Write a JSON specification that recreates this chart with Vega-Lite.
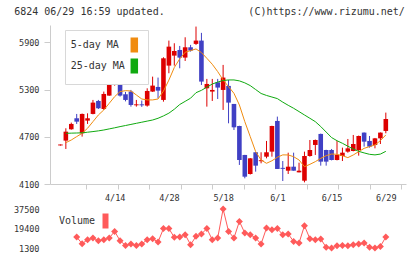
{
  "$schema": "https://vega.github.io/schema/vega-lite/v6.json",
  "autosize": "none",
  "width": 356,
  "height": 223,
  "padding": {"left": 50, "top": 25, "right": 14, "bottom": 11},
  "background": "white",
  "config": {
    "view": {"stroke": null},
    "axis": {"labelFont": "DejaVu Sans Mono", "labelFontSize": 8.5, "labelColor": "#333", "domainColor": "#ccc", "tickColor": "#ccc", "grid": false}
  },
  "data": {"values": [
    {"d":0,"o":4590,"h":4602,"l":4588,"c":4602,"m5":null,"m25":null,"v":null},
    {"d":1,"o":4651,"h":4808,"l":4545,"c":4765,"m5":4625,"m25":4744,"v":null},
    {"d":2,"o":4795,"h":4880,"l":4790,"c":4863,"m5":4659,"m25":4746,"v":null},
    {"d":3,"o":4935,"h":4990,"l":4863,"c":4892,"m5":4702,"m25":4748,"v":11500},
    {"d":4,"o":4744,"h":4995,"l":4702,"c":4990,"m5":4744,"m25":4750,"v":5300},
    {"d":5,"o":4905,"h":4998,"l":4863,"c":4935,"m5":4808,"m25":4758,"v":9000},
    {"d":6,"o":4990,"h":5168,"l":4985,"c":5134,"m5":4892,"m25":4766,"v":10600},
    {"d":7,"o":5155,"h":5168,"l":5053,"c":5062,"m5":4977,"m25":4775,"v":8100},
    {"d":8,"o":5053,"h":5274,"l":5040,"c":5244,"m5":5041,"m25":4786,"v":9000},
    {"d":9,"o":5223,"h":5464,"l":5220,"c":5371,"m5":5125,"m25":4800,"v":10600},
    {"d":10,"o":5358,"h":5613,"l":5350,"c":5477,"m5":5210,"m25":4814,"v":16700},
    {"d":11,"o":5528,"h":5530,"l":5210,"c":5223,"m5":5274,"m25":4829,"v":8100},
    {"d":12,"o":5240,"h":5270,"l":5150,"c":5168,"m5":5286,"m25":4843,"v":3700},
    {"d":13,"o":5274,"h":5295,"l":5083,"c":5104,"m5":5282,"m25":4857,"v":5000},
    {"d":14,"o":5100,"h":5168,"l":5083,"c":5112,"m5":5231,"m25":4871,"v":3700},
    {"d":15,"o":5112,"h":5160,"l":5080,"c":5100,"m5":5180,"m25":4885,"v":5000},
    {"d":16,"o":5096,"h":5316,"l":5083,"c":5282,"m5":5168,"m25":4899,"v":9000},
    {"d":17,"o":5274,"h":5464,"l":5270,"c":5350,"m5":5168,"m25":4913,"v":9900},
    {"d":18,"o":5333,"h":5452,"l":5189,"c":5286,"m5":5180,"m25":4935,"v":6900},
    {"d":19,"o":5168,"h":5710,"l":5146,"c":5697,"m5":5280,"m25":4965,"v":19300},
    {"d":20,"o":5604,"h":5922,"l":5507,"c":5845,"m5":5420,"m25":5000,"v":19300},
    {"d":21,"o":5731,"h":5888,"l":5604,"c":5790,"m5":5580,"m25":5050,"v":11200},
    {"d":22,"o":5803,"h":5854,"l":5570,"c":5706,"m5":5690,"m25":5110,"v":11500},
    {"d":23,"o":5706,"h":5964,"l":5663,"c":5837,"m5":5774,"m25":5150,"v":13700},
    {"d":24,"o":5837,"h":5867,"l":5782,"c":5795,"m5":5795,"m25":5190,"v":4400},
    {"d":25,"o":5880,"h":6100,"l":5867,"c":5922,"m5":5816,"m25":5260,"v":12100},
    {"d":26,"o":5922,"h":6020,"l":5358,"c":5401,"m5":5770,"m25":5290,"v":14300},
    {"d":27,"o":5316,"h":5435,"l":5083,"c":5371,"m5":5697,"m25":5330,"v":19300},
    {"d":28,"o":5274,"h":5435,"l":5155,"c":5295,"m5":5621,"m25":5370,"v":9000},
    {"d":29,"o":5392,"h":5435,"l":5180,"c":5325,"m5":5528,"m25":5395,"v":10600},
    {"d":30,"o":5295,"h":5613,"l":5041,"c":5452,"m5":5422,"m25":5415,"v":37500},
    {"d":31,"o":5346,"h":5422,"l":4871,"c":5134,"m5":5337,"m25":5422,"v":16700},
    {"d":32,"o":5117,"h":5117,"l":4786,"c":4820,"m5":5252,"m25":5422,"v":10600},
    {"d":33,"o":4837,"h":4840,"l":4342,"c":4405,"m5":5104,"m25":5410,"v":26000},
    {"d":34,"o":4469,"h":4470,"l":4172,"c":4193,"m5":4892,"m25":5385,"v":15200},
    {"d":35,"o":4227,"h":4430,"l":4220,"c":4426,"m5":4702,"m25":5350,"v":13700},
    {"d":36,"o":4503,"h":4505,"l":4257,"c":4333,"m5":4511,"m25":5300,"v":10600},
    {"d":37,"o":4390,"h":4503,"l":4363,"c":4402,"m5":4405,"m25":5250,"v":5000},
    {"d":38,"o":4447,"h":4647,"l":4426,"c":4503,"m5":4363,"m25":5225,"v":19900},
    {"d":39,"o":4511,"h":4840,"l":4447,"c":4837,"m5":4395,"m25":5205,"v":18300},
    {"d":40,"o":4901,"h":4956,"l":4291,"c":4291,"m5":4440,"m25":5185,"v":19300},
    {"d":41,"o":4305,"h":4392,"l":4138,"c":4293,"m5":4470,"m25":5140,"v":13700},
    {"d":42,"o":4269,"h":4498,"l":4227,"c":4320,"m5":4469,"m25":5100,"v":14300},
    {"d":43,"o":4320,"h":4498,"l":4269,"c":4269,"m5":4447,"m25":5062,"v":7400},
    {"d":44,"o":4248,"h":4371,"l":4248,"c":4269,"m5":4405,"m25":5020,"v":5950},
    {"d":45,"o":4142,"h":4511,"l":4121,"c":4456,"m5":4320,"m25":4977,"v":22000},
    {"d":46,"o":4456,"h":4659,"l":4447,"c":4532,"m5":4350,"m25":4935,"v":9900},
    {"d":47,"o":4596,"h":4665,"l":4469,"c":4659,"m5":4384,"m25":4892,"v":9000},
    {"d":48,"o":4736,"h":4740,"l":4333,"c":4384,"m5":4426,"m25":4830,"v":9700},
    {"d":49,"o":4532,"h":4535,"l":4333,"c":4384,"m5":4460,"m25":4760,"v":1900},
    {"d":50,"o":4532,"h":4545,"l":4400,"c":4405,"m5":4481,"m25":4690,"v":1300},
    {"d":51,"o":4405,"h":4647,"l":4400,"c":4469,"m5":4477,"m25":4650,"v":3400},
    {"d":52,"o":4456,"h":4562,"l":4392,"c":4498,"m5":4460,"m25":4617,"v":3700},
    {"d":53,"o":4511,"h":4672,"l":4498,"c":4553,"m5":4435,"m25":4580,"v":3400},
    {"d":54,"o":4519,"h":4723,"l":4515,"c":4608,"m5":4469,"m25":4545,"v":4400},
    {"d":55,"o":4532,"h":4715,"l":4460,"c":4710,"m5":4511,"m25":4515,"v":5000},
    {"d":56,"o":4753,"h":4755,"l":4575,"c":4638,"m5":4553,"m25":4495,"v":5950},
    {"d":57,"o":4647,"h":4710,"l":4562,"c":4575,"m5":4575,"m25":4477,"v":1900},
    {"d":58,"o":4596,"h":4685,"l":4553,"c":4680,"m5":4596,"m25":4470,"v":1300},
    {"d":59,"o":4680,"h":4755,"l":4608,"c":4753,"m5":4651,"m25":4480,"v":2800},
    {"d":60,"o":4774,"h":5007,"l":4744,"c":4926,"m5":4723,"m25":4515,"v":11500}
  ]},
  "layer": [
    {
      "layer": [
        {
          "mark": {"type": "rule", "strokeWidth": 1, "clip": false},
          "encoding": {
            "x": {"field": "d", "type": "quantitative", "scale": {"domain": [-1, 62.8], "nice": false, "zero": false},
                  "axis": {"orient": "bottom", "offset": -64, "values": [10, 20, 30, 40, 50, 60], "ticks": false, "labelPadding": 9, "title": null,
                           "labelExpr": "datum.value == 10 ? '4/14' : datum.value == 20 ? '4/28' : datum.value == 30 ? '5/18' : datum.value == 40 ? '6/1' : datum.value == 50 ? '6/15' : '6/29'"}},
            "y": {"field": "l", "type": "quantitative", "scale": {"domain": [4100, 6120], "nice": false, "zero": false, "range": [159, 0]},
                  "axis": {"orient": "left", "values": [4100, 4700, 5300, 5900], "format": "d", "tickSize": 6, "labelPadding": 5, "title": null}},
            "y2": {"field": "h"},
            "color": {"condition": {"test": "datum.c >= datum.o", "value": "#dd0000"}, "value": "#4040c4"}
          }
        },
        {
          "mark": {"type": "bar", "size": 4.6, "clip": false},
          "encoding": {
            "x": {"field": "d", "type": "quantitative",
                  "axis": {"orient": "bottom", "offset": -64, "values": [4.8, 10.6, 16.4, 22.2, 28, 33.8, 39.6, 45.4, 51.2, 57, 62.8], "labels": false, "domain": false, "tickSize": 5, "title": null}},
            "y": {"field": "o", "type": "quantitative"},
            "y2": {"field": "c"},
            "color": {"condition": {"test": "datum.c >= datum.o", "value": "#dd0000"}, "value": "#4040c4"}
          }
        },
        {
          "transform": [{"fold": ["m5", "m25"], "as": ["key", "val"]}],
          "mark": {"type": "line", "strokeWidth": 1, "clip": false},
          "encoding": {
            "x": {"field": "d", "type": "quantitative", "axis": null},
            "y": {"field": "val", "type": "quantitative"},
            "color": {"field": "key", "type": "nominal",
                      "scale": {"domain": ["m5", "m25"], "range": ["#f08c10", "#10aa10"]},
                      "legend": {"orient": "none", "legendX": 15, "legendY": 5, "title": null, "direction": "vertical",
                                 "symbolType": "M-0.444,-1H0.444V1H-0.444Z", "symbolSize": 182.25, "symbolStrokeWidth": 1.5,
                                 "labelAlign": "left", "labelOffset": -71.1, "symbolOffset": 54.3, "rowPadding": 0,
                                 "labelFont": "DejaVu Sans Mono", "labelFontSize": 10, "labelColor": "#333",
                                 "padding": 7.5, "fillColor": "white", "strokeColor": "#d8d8d8",
                                 "labelExpr": "datum.value == 'm5' ? '\u00a05-day MA' : '25-day MA'",
                                 "encode": {"symbols": {"update": {"fill": {"scale": "color", "field": "value"}, "fillOpacity": {"value": 1}, "stroke": {"value": "#333"}, "strokeWidth": {"value": 1.5}}}}}
            }
          }
        },
        {
          "data": {"values": [{}]},
          "mark": {"type": "text", "align": "left", "baseline": "middle", "font": "DejaVu Sans Mono", "fontSize": 10, "color": "#333", "clip": false},
          "encoding": {
            "x": {"datum": -8.53, "type": "quantitative", "axis": null},
            "y": {"datum": 6285, "type": "quantitative"},
            "text": {"value": "6824 06/29 16:59 updated."}
          }
        },
        {
          "data": {"values": [{}]},
          "mark": {"type": "text", "align": "right", "baseline": "middle", "font": "DejaVu Sans Mono", "fontSize": 10, "color": "#333", "clip": false},
          "encoding": {
            "x": {"datum": 63.52, "type": "quantitative", "axis": null},
            "y": {"datum": 6285, "type": "quantitative"},
            "text": {"value": "(C)https://www.rizumu.net/"}
          }
        }
      ],
      "resolve": {"axis": {"x": "independent"}}
    },
    {
      "layer": [
        {
          "mark": {"type": "line", "strokeWidth": 1, "color": "#ff5a5a", "clip": false},
          "encoding": {
            "x": {"field": "d", "type": "quantitative", "axis": null},
            "y": {"field": "v", "type": "quantitative", "scale": {"domain": [1300, 37500], "nice": false, "zero": false, "range": [223, 184]},
                  "axis": {"orient": "left", "values": [1300, 19400, 37500], "format": "d", "domain": false, "ticks": false, "labelPadding": 11, "title": null}}
          }
        },
        {
          "mark": {"type": "point", "shape": "diamond", "filled": true, "size": 49, "opacity": 1, "clip": false},
          "encoding": {
            "x": {"field": "d", "type": "quantitative", "axis": null},
            "y": {"field": "v", "type": "quantitative"},
            "fill": {"datum": "Volume", "type": "nominal", "scale": {"range": ["#ff5a5a"]},
                     "legend": {"orient": "none", "legendX": 9, "legendY": 187.5, "title": null,
                                "symbolType": "M-0.4,-1H0.4V1H-0.4Z", "symbolSize": 225, "symbolStrokeWidth": 1.5,
                                "labelAlign": "left", "labelOffset": -55, "symbolOffset": 38, "padding": 0,
                                "labelFont": "DejaVu Sans Mono", "labelFontSize": 10, "labelColor": "#333",
                                "encode": {"symbols": {"update": {"stroke": {"value": "#333"}, "strokeWidth": {"value": 1.5}, "fillOpacity": {"value": 1}}}}}}
          }
        }
      ]
    }
  ],
  "resolve": {"scale": {"y": "independent"}}
}
